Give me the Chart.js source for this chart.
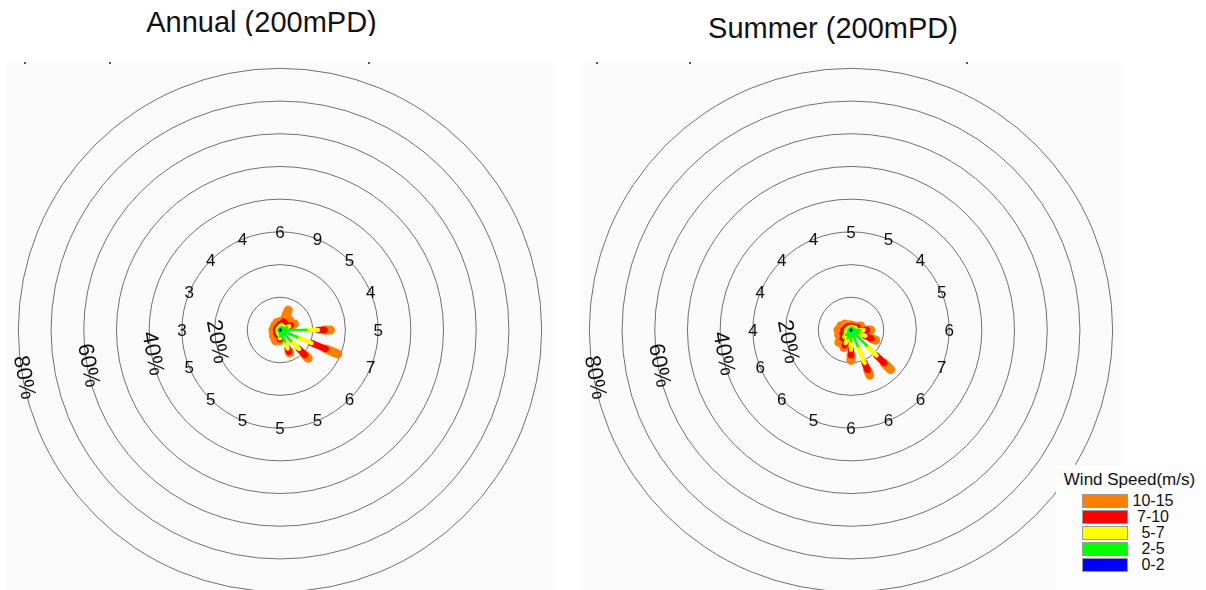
<!DOCTYPE html>
<html>
<head>
<meta charset="utf-8">
<script src="https://cdn.jsdelivr.net/npm/chart.js@4.4.1/dist/chart.umd.min.js"></script>
<style>
  html, body { margin: 0; padding: 0; width: 1206px; height: 590px; overflow: hidden; background: #fff; }
  body { position: relative; font-family: "Liberation Sans", Arial, sans-serif; color: #111; }
  .panel { position: absolute; top: 63px; height: 527px; background: #fafafa; }
  .title { position: absolute; font-size: 29px; line-height: 29px; white-space: nowrap; text-align: center; }
  .clip { position: absolute; left: 0; top: 0; width: 560px; height: 36px; overflow: hidden; }
  .tick { position: absolute; top: 62px; width: 2px; height: 2px; background: #555; }
  canvas { position: absolute; }
  #legend { position: absolute; left: 1056px; top: 465px; width: 150px; height: 125px; background: #fdfdfd; }
  #legend .lt { position: absolute; left: 0; top: 6px; width: 147px; text-align: center; font-size: 17px; line-height: 17px; }
  #legend .box { position: absolute; left: 26px; width: 44px; height: 12px; border: 1px solid #9a9a9a; }
  #legend .lab { position: absolute; left: 75px; width: 44px; text-align: center; font-size: 16px; line-height: 16px; }
</style>
</head>
<body>
<div class="panel" style="left:7px; width:548px;"></div>
<div class="panel" style="left:581px; width:542px;"></div>
<div class="tick" style="left:24px;"></div>
<div class="tick" style="left:109px;"></div>
<div class="tick" style="left:368px;"></div>
<div class="tick" style="left:596px;"></div>
<div class="tick" style="left:689px;"></div>
<div class="tick" style="left:966px;"></div>
<div class="clip"><div class="title" style="left:0; width:523px; top:8px;">Annual (200mPD)</div></div>
<div class="title" style="left:600px; width:466px; top:14px;">Summer (200mPD)</div>
<canvas id="annual" width="556" height="556" style="left:2px; top:52px;"></canvas>
<canvas id="summer" width="556" height="556" style="left:573px; top:52px;"></canvas>
<div id="legend"><div class="lt">Wind Speed(m/s)</div></div>
<script>
// 16 sectors, clockwise from north
const directions = ['N', 'NNE', 'NE', 'ENE', 'E', 'ESE', 'SE', 'SSE', 'S', 'SSW', 'SW', 'WSW', 'W', 'WNW', 'NW', 'NNW'];
const speedBins = ['0-2', '2-5', '5-7', '7-10', '10-15'];
const binColours = ['#0000ff', '#00ff00', '#ffff00', '#ff0000', '#ff8000'];
const binWidths = [1.5, 2.5, 4.5, 6.5, 9];

// frequency (%) per speed bin and direction
const annual0_2   = [0.3, 0.3, 0.3, 0.3, 0.4, 0.4, 0.3, 0.3, 0.3, 0.2, 0.2, 0.2, 0.2, 0.2, 0.2, 0.2];
const annual2_5   = [0.5, 0.7, 0.7, 2.0, 7.7, 5.4, 4.4, 3.7, 1.7, 0.6, 0.4, 0.3, 0.3, 0.3, 0.3, 0.3];
const annual5_7   = [0.4, 0.6, 0.5, 0.7, 3.5, 4.6, 3.5, 2.1, 0.5, 0.5, 0.4, 0.3, 0.3, 0.3, 0.3, 0.3];
const annual7_10  = [0.6, 1.2, 1.0, 0.6, 2.0, 4.7, 2.6, 1.1, 0.3, 0.5, 0.5, 0.4, 0.4, 0.4, 0.4, 0.4];
const annual10_15 = [0.8, 3.8, 1.7, 1.2, 1.8, 4.0, 1.4, 0.4, 0.4, 1.8, 1.3, 1.0, 1.0, 0.8, 1.0, 1.3];

const summer0_2   = [0.3, 0.3, 0.3, 0.3, 0.3, 0.3, 0.3, 0.3, 0.3, 0.3, 0.3, 0.3, 0.2, 0.2, 0.2, 0.2];
const summer2_5   = [0.5, 0.5, 0.6, 0.7, 2.4, 2.5, 6.5, 5.1, 3.2, 2.5, 1.8, 0.7, 0.6, 0.5, 0.4, 0.3];
const summer5_7   = [0.2, 0.2, 0.2, 0.5, 1.1, 1.9, 4.2, 5.5, 2.5, 1.5, 0.8, 0.8, 0.7, 0.5, 0.4, 0.3];
const summer7_10  = [0.2, 0.2, 0.2, 0.7, 1.0, 2.0, 3.3, 2.3, 1.7, 0.8, 0.7, 1.0, 0.8, 0.6, 0.5, 0.4];
const summer10_15 = [0.3, 0.2, 0.4, 1.0, 1.2, 1.5, 2.8, 1.8, 1.6, 0.7, 1.7, 1.3, 1.7, 1.6, 1.1, 0.5];

// numbers written on the 30% ring
const annualRingLabels = [6, 9, 5, 4, 5, 7, 6, 5, 5, 5, 5, 5, 3, 3, 4, 4];
const summerRingLabels = [5, 5, 4, 5, 6, 7, 6, 6, 6, 5, 6, 6, 4, 4, 4, 4];

const ringLevels = [10, 20, 30, 40, 50, 60, 70, 80];
const pctTicks = [20, 40, 60, 80];
const labelRing = 30;
const tickBearing = 259.5;

function toRad(deg) { return deg * Math.PI / 180; }

// each speed bin is drawn as a segment from the previous cumulative total to its own
function buildDatasets(bins) {
    let cum = directions.map(() => 0);
    return bins.map((vals, k) => {
        const start = cum;
        cum = cum.map((c, i) => c + vals[i]);
        const pts = [];
        directions.forEach((d, i) => {
            const a = toRad(i * 22.5);
            pts.push({x: start[i] * Math.sin(a), y: start[i] * Math.cos(a)});
            pts.push({x: cum[i] * Math.sin(a), y: cum[i] * Math.cos(a)});
            pts.push({x: null, y: null});
        });
        return {
            label: speedBins[k],
            data: pts,
            showLine: true,
            borderColor: binColours[k],
            backgroundColor: binColours[k],
            borderWidth: binWidths[k],
            borderCapStyle: 'round',
            borderJoinStyle: 'round',
            pointRadius: 0,
            spanGaps: false
        };
    });
}

const roseGrid = {
    id: 'roseGrid',
    beforeDatasetsDraw(chart) {
        const {ctx, scales: {x, y}} = chart;
        const cx = x.getPixelForValue(0), cy = y.getPixelForValue(0);
        ctx.save();
        ctx.strokeStyle = '#707070';
        ctx.lineWidth = 1;
        ringLevels.forEach(v => {
            const r = x.getPixelForValue(v) - cx;
            ctx.beginPath();
            ctx.arc(cx, cy, r, 0, 2 * Math.PI);
            ctx.stroke();
        });
        ctx.restore();
    },
    afterDatasetsDraw(chart, args, opts) {
        const {ctx, scales: {x, y}} = chart;
        ctx.save();
        ctx.fillStyle = '#111';
        ctx.textAlign = 'center';
        ctx.textBaseline = 'middle';
        ctx.font = '17px "Liberation Sans", Arial, sans-serif';
        opts.labels.forEach((t, i) => {
            const a = toRad(i * 22.5);
            ctx.fillText(String(t), x.getPixelForValue(labelRing * Math.sin(a)), y.getPixelForValue(labelRing * Math.cos(a)) + 1);
        });
        // percentage ticks written along the rings
        ctx.font = '22px "Liberation Sans", Arial, sans-serif';
        const b = toRad(tickBearing);
        pctTicks.forEach(v => {
            const r = v - 0.6;
            ctx.save();
            ctx.translate(x.getPixelForValue(r * Math.sin(b)), y.getPixelForValue(r * Math.cos(b)));
            ctx.rotate(toRad(tickBearing - 180));
            ctx.fillText(v + '%', 0, 1);
            ctx.restore();
        });
        ctx.restore();
    }
};

function makeRose(id, bins, ringLabels) {
    return new Chart(document.getElementById(id), {
        type: 'scatter',
        data: { datasets: buildDatasets(bins) },
        options: {
            responsive: false,
            animation: false,
            events: [],
            layout: { padding: 0 },
            scales: {
                x: { type: 'linear', min: -85, max: 85, display: false },
                y: { type: 'linear', min: -85, max: 85, display: false }
            },
            plugins: {
                legend: { display: false },
                title: { display: false },
                tooltip: { enabled: false },
                roseGrid: { labels: ringLabels }
            }
        },
        plugins: [roseGrid]
    });
}

makeRose('annual', [annual0_2, annual2_5, annual5_7, annual7_10, annual10_15], annualRingLabels);
makeRose('summer', [summer0_2, summer2_5, summer5_7, summer7_10, summer10_15], summerRingLabels);

// legend, top entry is the fastest bin
const legend = document.getElementById('legend');
speedBins.slice().reverse().forEach((lab, j) => {
    const k = speedBins.length - 1 - j;
    const top = 29 + j * 16.1;
    const box = document.createElement('div');
    box.className = 'box';
    box.style.top = top + 'px';
    box.style.background = binColours[k];
    legend.appendChild(box);
    const t = document.createElement('div');
    t.className = 'lab';
    t.style.top = (top - 1) + 'px';
    t.textContent = lab;
    legend.appendChild(t);
});
</script>
</body>
</html>
